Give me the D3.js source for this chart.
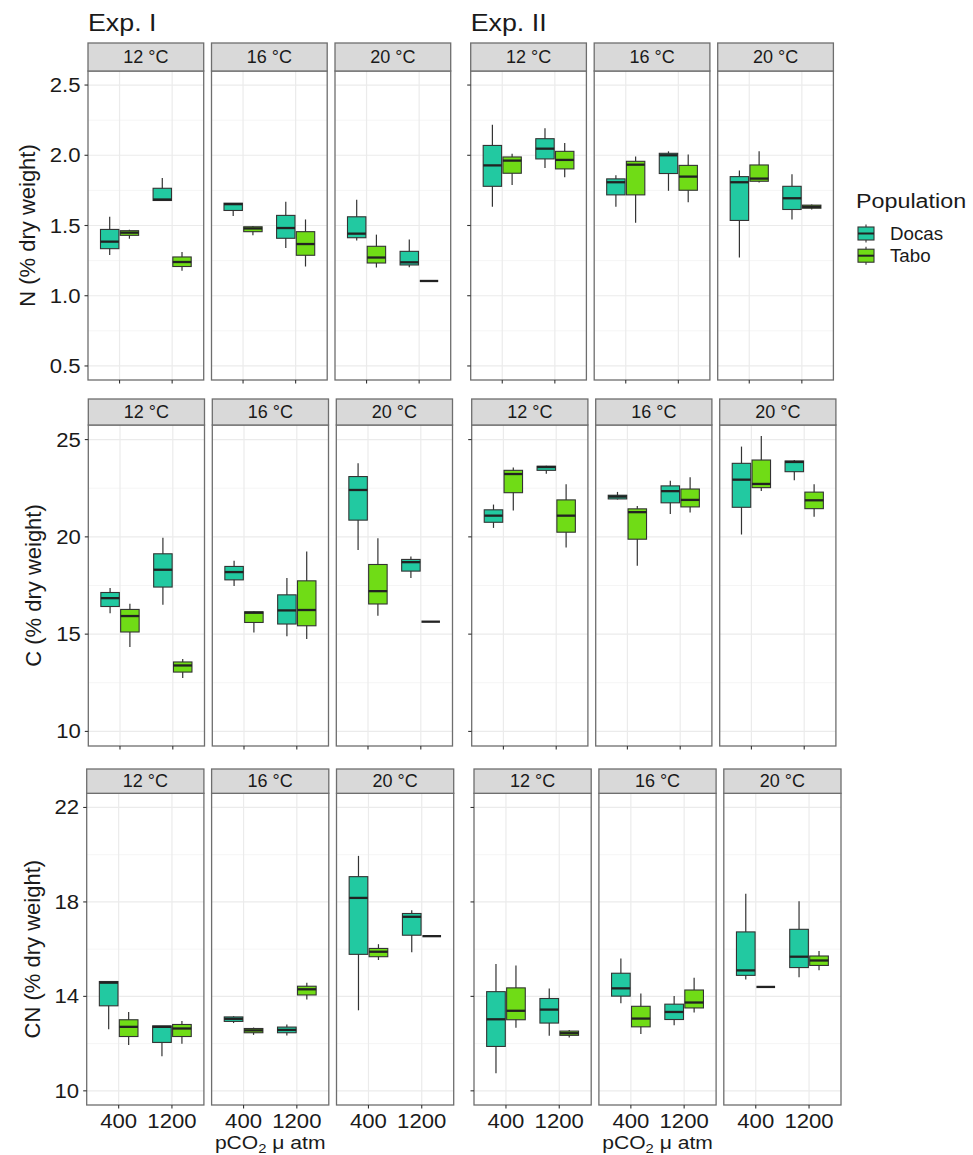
<!DOCTYPE html>
<html>
<head>
<meta charset="utf-8">
<script src="https://cdn.jsdelivr.net/npm/d3@7"></script>
<style>
  body { margin: 0; background: #fff; }
  svg { display: block; }
  text { font-family: "Liberation Sans", Arial, Helvetica, sans-serif; fill: #1a1a1a; }
</style>
</head>
<body>
<svg id="chart" width="973" height="1155"></svg>
<script>
// ---- categories ----
const experiments = ["Exp. I", "Exp. II"];
const temperatures = ["12 °C", "16 °C", "20 °C"];
const co2Levels = ["400", "1200"];
const populations = ["Docas", "Tabo"];
const populationColors = ["#22c9a1", "#70dc16"];

// ---- response variables and their y ticks ----
const yTitles = ["N (% dry weight)", "C (% dry weight)", "CN (% dry weight)"];
const yTicksN = [0.5, 1.0, 1.5, 2.0, 2.5];
const yTickLabelsN = ["0.5", "1.0", "1.5", "2.0", "2.5"];
const yTicksC = [10, 15, 20, 25];
const yTickLabelsC = ["10", "15", "20", "25"];
const yTicksCN = [10, 14, 18, 22];
const yTickLabelsCN = ["10", "14", "18", "22"];

// ---- box statistics: experiment, temperature, pCO2, population, min, q1, median, q3, max ----
const statsN = [
  ["Exp. I", "12 °C", "400", "Docas", 1.29, 1.335, 1.385, 1.472, 1.562],
  ["Exp. I", "12 °C", "400", "Tabo", 1.406, 1.43, 1.449, 1.463, 1.47],
  ["Exp. I", "12 °C", "1200", "Docas", 1.675, 1.678, 1.685, 1.765, 1.839],
  ["Exp. I", "12 °C", "1200", "Tabo", 1.177, 1.208, 1.24, 1.276, 1.311],
  ["Exp. I", "16 °C", "400", "Docas", 1.567, 1.607, 1.652, 1.659, 1.659],
  ["Exp. I", "16 °C", "400", "Tabo", 1.43, 1.456, 1.479, 1.491, 1.496],
  ["Exp. I", "16 °C", "1200", "Docas", 1.34, 1.409, 1.482, 1.572, 1.669],
  ["Exp. I", "16 °C", "1200", "Tabo", 1.208, 1.288, 1.368, 1.456, 1.543],
  ["Exp. I", "20 °C", "400", "Docas", 1.394, 1.413, 1.442, 1.562, 1.683],
  ["Exp. I", "20 °C", "400", "Tabo", 1.201, 1.233, 1.272, 1.352, 1.435],
  ["Exp. I", "20 °C", "1200", "Docas", 1.203, 1.219, 1.238, 1.316, 1.401],
  ["Exp. I", "20 °C", "1200", "Tabo", 1.105, 1.105, 1.105, 1.105, 1.105],
  ["Exp. II", "12 °C", "400", "Docas", 1.633, 1.779, 1.928, 2.07, 2.217],
  ["Exp. II", "12 °C", "400", "Tabo", 1.789, 1.872, 1.962, 1.988, 2.011],
  ["Exp. II", "12 °C", "1200", "Docas", 1.91, 1.974, 2.047, 2.118, 2.193],
  ["Exp. II", "12 °C", "1200", "Tabo", 1.843, 1.903, 1.967, 2.028, 2.087],
  ["Exp. II", "16 °C", "400", "Docas", 1.633, 1.718, 1.808, 1.832, 1.858],
  ["Exp. II", "16 °C", "400", "Tabo", 1.52, 1.718, 1.933, 1.957, 1.992],
  ["Exp. II", "16 °C", "1200", "Docas", 1.747, 1.87, 2.0, 2.014, 2.028],
  ["Exp. II", "16 °C", "1200", "Tabo", 1.666, 1.751, 1.848, 1.928, 2.006],
  ["Exp. II", "20 °C", "400", "Docas", 1.272, 1.536, 1.808, 1.848, 1.891],
  ["Exp. II", "20 °C", "400", "Tabo", 1.806, 1.815, 1.834, 1.931, 2.028],
  ["Exp. II", "20 °C", "1200", "Docas", 1.543, 1.614, 1.694, 1.779, 1.865],
  ["Exp. II", "20 °C", "1200", "Tabo", 1.614, 1.623, 1.633, 1.645, 1.65]
];

const statsC = [
  ["Exp. I", "12 °C", "400", "Docas", 16.08, 16.42, 16.85, 17.14, 17.37],
  ["Exp. I", "12 °C", "400", "Tabo", 14.34, 15.11, 15.93, 16.27, 16.56],
  ["Exp. I", "12 °C", "1200", "Docas", 16.51, 17.42, 18.31, 19.13, 19.96],
  ["Exp. I", "12 °C", "1200", "Tabo", 12.75, 13.05, 13.39, 13.57, 13.72],
  ["Exp. I", "16 °C", "400", "Docas", 17.48, 17.79, 18.19, 18.48, 18.77],
  ["Exp. I", "16 °C", "400", "Tabo", 15.09, 15.6, 16.1, 16.15, 16.17],
  ["Exp. I", "16 °C", "1200", "Docas", 14.89, 15.52, 16.22, 17.02, 17.88],
  ["Exp. I", "16 °C", "1200", "Tabo", 14.75, 15.43, 16.24, 17.74, 19.25],
  ["Exp. I", "20 °C", "400", "Docas", 19.33, 20.86, 22.41, 23.1, 23.78],
  ["Exp. I", "20 °C", "400", "Tabo", 15.95, 16.55, 17.21, 18.58, 19.93],
  ["Exp. I", "20 °C", "1200", "Docas", 17.88, 18.24, 18.7, 18.84, 18.99],
  ["Exp. I", "20 °C", "1200", "Tabo", 15.64, 15.64, 15.64, 15.64, 15.64],
  ["Exp. II", "12 °C", "400", "Docas", 20.46, 20.75, 21.09, 21.39, 21.66],
  ["Exp. II", "12 °C", "400", "Tabo", 21.35, 22.27, 23.23, 23.42, 23.56],
  ["Exp. II", "12 °C", "1200", "Docas", 23.25, 23.42, 23.59, 23.63, 23.65],
  ["Exp. II", "12 °C", "1200", "Tabo", 19.45, 20.24, 21.09, 21.9, 22.71],
  ["Exp. II", "16 °C", "400", "Docas", 21.92, 21.95, 22.07, 22.14, 22.31],
  ["Exp. II", "16 °C", "400", "Tabo", 18.51, 19.88, 21.27, 21.44, 21.59],
  ["Exp. II", "16 °C", "1200", "Docas", 21.17, 21.75, 22.35, 22.62, 22.88],
  ["Exp. II", "16 °C", "1200", "Tabo", 21.25, 21.54, 21.9, 22.46, 23.07],
  ["Exp. II", "20 °C", "400", "Docas", 20.12, 21.52, 22.94, 23.78, 24.64],
  ["Exp. II", "20 °C", "400", "Tabo", 22.36, 22.53, 22.72, 23.95, 25.19],
  ["Exp. II", "20 °C", "1200", "Docas", 22.91, 23.35, 23.85, 23.9, 23.95],
  ["Exp. II", "20 °C", "1200", "Tabo", 21.04, 21.45, 21.88, 22.3, 22.71]
];

const statsCN = [
  ["Exp. I", "12 °C", "400", "Docas", 12.61, 13.6, 14.58, 14.63, 14.63],
  ["Exp. I", "12 °C", "400", "Tabo", 11.94, 12.3, 12.71, 13.01, 13.34],
  ["Exp. I", "12 °C", "1200", "Docas", 11.46, 12.05, 12.71, 12.75, 12.75],
  ["Exp. I", "12 °C", "1200", "Tabo", 11.99, 12.3, 12.64, 12.81, 12.96],
  ["Exp. I", "16 °C", "400", "Docas", 12.87, 12.94, 13.05, 13.13, 13.16],
  ["Exp. I", "16 °C", "400", "Tabo", 12.37, 12.46, 12.56, 12.64, 12.68],
  ["Exp. I", "16 °C", "1200", "Docas", 12.34, 12.46, 12.58, 12.7, 12.81],
  ["Exp. I", "16 °C", "1200", "Tabo", 13.87, 14.06, 14.3, 14.43, 14.58],
  ["Exp. I", "20 °C", "400", "Docas", 13.41, 15.78, 18.17, 19.07, 19.95],
  ["Exp. I", "20 °C", "400", "Tabo", 15.54, 15.68, 15.89, 16.03, 16.21],
  ["Exp. I", "20 °C", "1200", "Docas", 15.87, 16.59, 17.37, 17.51, 17.65],
  ["Exp. I", "20 °C", "1200", "Tabo", 16.55, 16.55, 16.55, 16.55, 16.55],
  ["Exp. II", "12 °C", "400", "Docas", 10.74, 11.88, 13.03, 14.2, 15.37],
  ["Exp. II", "12 °C", "400", "Tabo", 12.67, 13.01, 13.39, 14.36, 15.31],
  ["Exp. II", "12 °C", "1200", "Docas", 12.33, 12.87, 13.44, 13.91, 14.33],
  ["Exp. II", "12 °C", "1200", "Tabo", 12.26, 12.35, 12.44, 12.53, 12.58],
  ["Exp. II", "16 °C", "400", "Docas", 13.71, 14.01, 14.34, 14.98, 15.6],
  ["Exp. II", "16 °C", "400", "Tabo", 12.41, 12.71, 13.06, 13.58, 14.12],
  ["Exp. II", "16 °C", "1200", "Docas", 12.78, 13.02, 13.34, 13.67, 14.02],
  ["Exp. II", "16 °C", "1200", "Tabo", 13.32, 13.51, 13.74, 14.27, 14.79],
  ["Exp. II", "20 °C", "400", "Docas", 14.72, 14.89, 15.1, 16.73, 18.35],
  ["Exp. II", "20 °C", "400", "Tabo", 14.4, 14.4, 14.4, 14.4, 14.4],
  ["Exp. II", "20 °C", "1200", "Docas", 14.81, 15.22, 15.68, 16.84, 18.03],
  ["Exp. II", "20 °C", "1200", "Tabo", 15.11, 15.31, 15.52, 15.71, 15.92]
];

// ---- layout of the three facet rows ----
const rowLayout = [
  { stripTop: 43,  top: 71,    bottom: 380,  left: [88, 470.7],  w: 115.7, step: 123.5, titleX: 27 },
  { stripTop: 399, top: 425,   bottom: 746,  left: [88.3, 471.7], w: 116.2, step: 124.0, titleX: 33 },
  { stripTop: 769, top: 793.3, bottom: 1105, left: [86.7, 474],  w: 117.2, step: 124.9, titleX: 32 }
];

const rows = [
  { title: yTitles[0], ticks: yTicksN,  labels: yTickLabelsN,  stats: statsN },
  { title: yTitles[1], ticks: yTicksC,  labels: yTickLabelsC,  stats: statsC },
  { title: yTitles[2], ticks: yTicksCN, labels: yTickLabelsCN, stats: statsCN }
];

const svg = d3.select("#chart");
const colour = d3.scaleOrdinal().domain(populations).range(populationColors);

const BORDER = "#6e6e6e";
const INK = "#333333";

function label(parent, x, y, str, size, opts = {}) {
  const sx = opts.sx || 1;
  return parent.append("text")
    .attr("transform", `translate(${x},${y}) scale(${sx},1)`)
    .attr("font-size", size)
    .attr("text-anchor", opts.anchor || "middle")
    .text(str);
}

// experiment headings
label(svg, rowLayout[0].left[0], 31, experiments[0], 23.5, { anchor: "start", sx: 1.14 });
label(svg, rowLayout[0].left[1], 31, experiments[1], 23.5, { anchor: "start", sx: 1.14 });

rows.forEach((row, ri) => {
  const L = rowLayout[ri];
  const lo = row.ticks[0], hi = row.ticks[row.ticks.length - 1];
  const pad = (hi - lo) * 0.05;
  const y = d3.scaleLinear().domain([lo - pad, hi + pad]).range([L.bottom, L.top]);
  const minor = d3.pairs(row.ticks).map(([a, b]) => (a + b) / 2);

  // y axis title
  svg.append("text")
    .attr("transform", `translate(${L.titleX},${(L.top + L.bottom) / 2}) rotate(-90)`)
    .attr("font-size", 22)
    .attr("text-anchor", "middle")
    .attr("dy", "0.35em")
    .text(row.title);

  experiments.forEach((exp, ei) => {
    temperatures.forEach((temp, ti) => {
      const x0 = L.left[ei] + ti * L.step;
      const g = svg.append("g").attr("transform", `translate(${x0},0)`);
      const x = d3.scalePoint().domain(co2Levels).range([0, L.w]).padding(0.6);
      const unit = L.w / 2.2;
      const dodge = d3.scaleBand().domain(populations).range([-0.375 * unit, 0.375 * unit]);
      const boxW = 0.35 * unit;

      // panel background and grid
      g.append("rect").attr("x", 0).attr("y", L.top).attr("width", L.w).attr("height", L.bottom - L.top).attr("fill", "#fff");
      g.selectAll(".minor").data(minor).join("line")
        .attr("x1", 0).attr("x2", L.w)
        .attr("y1", d => y(d)).attr("y2", d => y(d))
        .attr("stroke", "#f3f3f3").attr("stroke-width", 0.8);
      g.selectAll(".major").data(row.ticks).join("line")
        .attr("x1", 0).attr("x2", L.w)
        .attr("y1", d => y(d)).attr("y2", d => y(d))
        .attr("stroke", "#ebebeb").attr("stroke-width", 1.2);
      g.selectAll(".vmajor").data(co2Levels).join("line")
        .attr("x1", d => x(d)).attr("x2", d => x(d))
        .attr("y1", L.top).attr("y2", L.bottom)
        .attr("stroke", "#ebebeb").attr("stroke-width", 1.2);

      // boxes
      const data = row.stats.filter(s => s[0] === exp && s[1] === temp);
      const bx = g.selectAll(".box").data(data).join("g")
        .attr("transform", d => `translate(${x(d[2]) + dodge(d[3]) + dodge.bandwidth() / 2},0)`);
      bx.append("line")
        .attr("x1", 0).attr("x2", 0)
        .attr("y1", d => y(d[8])).attr("y2", d => y(d[4]))
        .attr("stroke", INK).attr("stroke-width", 1.2);
      bx.append("rect")
        .attr("x", -boxW / 2).attr("width", boxW)
        .attr("y", d => y(d[7])).attr("height", d => Math.max(0, y(d[5]) - y(d[7])))
        .attr("fill", d => colour(d[3]))
        .attr("stroke", INK).attr("stroke-width", 1.1);
      bx.append("line")
        .attr("x1", -boxW / 2).attr("x2", boxW / 2)
        .attr("y1", d => y(d[6])).attr("y2", d => y(d[6]))
        .attr("stroke", "#222").attr("stroke-width", 2.3);

      // panel border
      g.append("rect").attr("x", 0).attr("y", L.top).attr("width", L.w).attr("height", L.bottom - L.top)
        .attr("fill", "none").attr("stroke", BORDER).attr("stroke-width", 1.3);

      // strip
      g.append("rect").attr("x", 0).attr("y", L.stripTop).attr("width", L.w).attr("height", L.top - L.stripTop)
        .attr("fill", "#d9d9d9").attr("stroke", BORDER).attr("stroke-width", 1.3);
      label(g, L.w / 2, (L.stripTop + L.top) / 2 + 6.3, temp, 17.5, { sx: 1.03 });

      // x ticks
      g.selectAll(".xt").data(co2Levels).join("line")
        .attr("x1", d => x(d)).attr("x2", d => x(d))
        .attr("y1", L.bottom).attr("y2", L.bottom + 3.5)
        .attr("stroke", INK).attr("stroke-width", 1.1);
      if (ri === rows.length - 1) {
        co2Levels.forEach(c => label(g, x(c), L.bottom + 23, c, 19.6, { sx: 1.13 }));
      }

      // y ticks on the first panel of each experiment
      if (ti === 0) {
        g.selectAll(".yt").data(row.ticks).join("line")
          .attr("x1", -3.5).attr("x2", 0)
          .attr("y1", d => y(d)).attr("y2", d => y(d))
          .attr("stroke", INK).attr("stroke-width", 1.1);
        if (ei === 0) {
          row.ticks.forEach((t, k) => label(g, -7.5, y(t) + 7, row.labels[k], 19.6, { anchor: "end", sx: 1.13 }));
        }
      }
    });

    // x axis title under the middle panel
    if (ri === rows.length - 1) {
      const cx = L.left[ei] + L.step + L.w / 2;
      const t = svg.append("text")
        .attr("transform", `translate(${cx},1148.5) scale(1.14,1)`)
        .attr("font-size", 18.5)
        .attr("text-anchor", "middle");
      t.append("tspan").text("pCO");
      t.append("tspan").attr("font-size", 13).attr("dy", 4).text("2");
      t.append("tspan").attr("dy", -4).text(" \u03bc atm");
    }
  });
});

// legend
const legend = svg.append("g").attr("transform", "translate(856,0)");
label(legend, 0, 208.3, "Population", 21, { anchor: "start", sx: 1.11 });
populations.forEach((p, i) => {
  const cy = 233.5 + i * 22.2;
  const k = legend.append("g").attr("transform", `translate(10,${cy})`);
  k.append("line").attr("x1", 0).attr("x2", 0).attr("y1", -9).attr("y2", 9).attr("stroke", INK).attr("stroke-width", 1.1);
  k.append("rect").attr("x", -8).attr("y", -6.5).attr("width", 16).attr("height", 13)
    .attr("fill", colour(p)).attr("stroke", INK).attr("stroke-width", 1.1);
  k.append("line").attr("x1", -8).attr("x2", 8).attr("y1", 0).attr("y2", 0).attr("stroke", "#222").attr("stroke-width", 2);
  label(legend, 34, cy + 6.7, p, 17.5, { anchor: "start", sx: 1.07 });
});
</script>
</body>
</html>
